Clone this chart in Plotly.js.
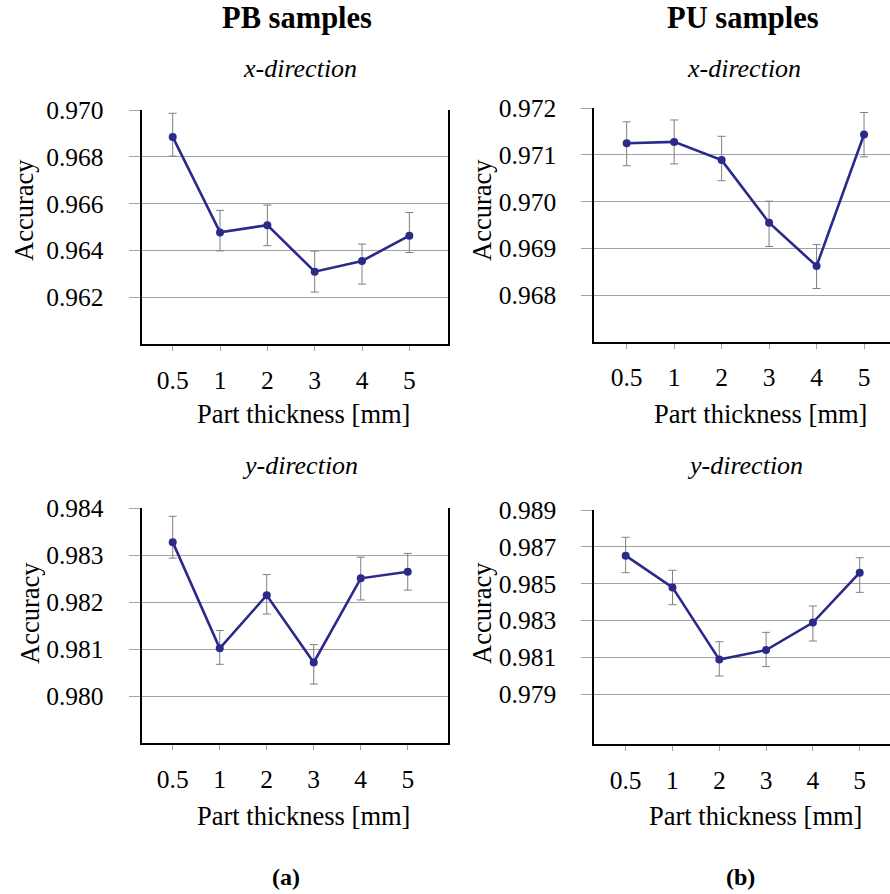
<!DOCTYPE html>
<html>
<head>
<meta charset="utf-8">
<script src="https://cdn.plot.ly/plotly-3.0.1.min.js"></script>
<style>html,body{margin:0;padding:0;background:#fff;}#chart{width:890px;height:894px;}</style>
</head>
<body>
<div id="chart"></div>
<script>
// Categories (part thickness, mm)
const categories = ['0.5', '1', '2', '3', '4', '5'];

// PB samples, x-direction
const pbX = [0.96885, 0.96477, 0.96508, 0.96309, 0.96355, 0.96463];
const pbXErrPlus = [0.00101, 0.00094, 0.00086, 0.00088, 0.00072, 0.00099];
const pbXErrMinus = [0.00082, 0.00079, 0.00088, 0.00087, 0.00099, 0.00072];

// PU samples, x-direction
const puX = [0.97125, 0.97128, 0.97089, 0.96955, 0.96862, 0.97144];
const puXErrPlus = [0.00046, 0.00047, 0.00051, 0.00046, 0.00046, 0.00047];
const puXErrMinus = [0.00048, 0.00047, 0.00044, 0.00051, 0.00048, 0.00048];

// PB samples, y-direction
const pbY = [0.98328, 0.98102, 0.98215, 0.98072, 0.98251, 0.98265];
const pbYErrPlus = [0.00055, 0.00038, 0.00044, 0.00038, 0.00045, 0.00039];
const pbYErrMinus = [0.00034, 0.00034, 0.00040, 0.00046, 0.00046, 0.00039];

// PU samples, y-direction
const puY = [0.98652, 0.98480, 0.98088, 0.98140, 0.98289, 0.98560];
const puYErrPlus = [0.00100, 0.00093, 0.00097, 0.00096, 0.00090, 0.00081];
const puYErrMinus = [0.00092, 0.00094, 0.00089, 0.00090, 0.00100, 0.00107];

// Tick values
const ticksPbX = [0.962, 0.964, 0.966, 0.968, 0.970];
const ticksPuX = [0.968, 0.969, 0.970, 0.971, 0.972];
const ticksPbY = [0.980, 0.981, 0.982, 0.983, 0.984];
const ticksPuY = [0.979, 0.981, 0.983, 0.985, 0.987, 0.989];

const FONT = 'Liberation Serif, Times New Roman, serif';
const LINE = '#2b2a8a';
const GRID = '#a3a3a3';

function trace(y, plus, minus, ax) {
  return {
    x: categories, y: y, type: 'scatter', mode: 'lines+markers',
    xaxis: 'x' + ax, yaxis: 'y' + ax,
    line: {color: LINE, width: 2.6},
    marker: {color: LINE, size: 8},
    error_y: {type: 'data', symmetric: false, array: plus, arrayminus: minus,
              color: '#7f7f7f', thickness: 1, width: 4},
    showlegend: false, cliponaxis: false
  };
}

function xax(domain, range, anchor) {
  return {
    domain: domain, anchor: anchor, type: 'category', range: range,
    showline: true, linecolor: '#000', linewidth: 2, mirror: false,
    showgrid: false, zeroline: false,
    ticks: 'outside', ticklen: 5, tickcolor: GRID, tickwidth: 1,
    ticklabelstandoff: 7,
    tickfont: {family: FONT, size: 25.5, color: '#000'}
  };
}
function yax(domain, range, tickvals, anchor, mirror) {
  return {
    domain: domain, anchor: anchor, range: range,
    tickvals: tickvals, tickformat: '.3f',
    showline: true, linecolor: '#000', linewidth: 2, mirror: mirror,
    showgrid: true, gridcolor: GRID, gridwidth: 1, zeroline: false,
    ticks: 'outside', ticklen: 11, tickcolor: GRID, tickwidth: 1,
    ticklabelstandoff: 20,
    tickfont: {family: FONT, size: 25.5, color: '#000'}
  };
}

const W = 890, H = 894;
const px = v => v / W;
const py = v => 1 - v / H;

const data = [
  trace(pbX, pbXErrPlus, pbXErrMinus, ''),
  trace(puX, puXErrPlus, puXErrMinus, '2'),
  trace(pbY, pbYErrPlus, pbYErrMinus, '3'),
  trace(puY, puYErrPlus, puYErrMinus, '4')
];

function ann(text, x, y, size, opts) {
  return Object.assign({
    text: text, x: px(x), y: py(y), xref: 'paper', yref: 'paper',
    xanchor: 'center', yanchor: 'middle', showarrow: false,
    font: {family: FONT, size: size, color: '#000'}
  }, opts || {});
}

const layout = {
  width: W, height: H,
  margin: {l: 0, r: 0, t: 0, b: 0},
  paper_bgcolor: '#fff', plot_bgcolor: '#fff',
  xaxis:  xax([px(141.7), px(447.7)], [-0.655, 5.81], 'y'),
  yaxis:  yax([py(344), py(110)], [0.960, 0.970], ticksPbX, 'x', true),
  xaxis2: xax([px(594.3), 1], [-0.682, 5.547], 'y2'),
  yaxis2: yax([py(341.7), py(108.3)], [0.967, 0.972], ticksPuX, 'x2', false),
  xaxis3: xax([px(141.7), px(447.7)], [-0.66, 5.85], 'y3'),
  yaxis3: yax([py(743.3), py(508.3)], [0.979, 0.984], ticksPbY, 'x3', true),
  xaxis4: xax([px(594.3), 1], [-0.67, 5.647], 'y4'),
  yaxis4: yax([py(744), py(510)], [0.9763, 0.989], ticksPuY, 'x4', false),
  annotations: [
    ann('<b>PB samples</b>', 297, 18, 30.5),
    ann('<b>PU samples</b>', 743, 18, 30.5),
    ann('<i>x-direction</i>', 300, 68, 26),
    ann('<i>x-direction</i>', 744, 68, 26),
    ann('<i>y-direction</i>', 300, 465, 26),
    ann('<i>y-direction</i>', 745, 465, 26),
    ann('Accuracy', 24, 210, 26.5, {textangle: -90}),
    ann('Accuracy', 482, 210, 26.5, {textangle: -90}),
    ann('Accuracy', 30, 613, 26.5, {textangle: -90}),
    ann('Accuracy', 482, 613, 26.5, {textangle: -90}),
    ann('Part thickness [mm]', 303, 414, 26.5),
    ann('Part thickness [mm]', 760, 414, 26.5),
    ann('Part thickness [mm]', 303, 816, 26.5),
    ann('Part thickness [mm]', 755, 816, 26.5),
    ann('<b>(a)</b>', 286, 877, 24),
    ann('<b>(b)</b>', 740, 877, 24)
  ]
};

Plotly.newPlot('chart', data, layout, {staticPlot: true, displayModeBar: false});
</script>
</body>
</html>
